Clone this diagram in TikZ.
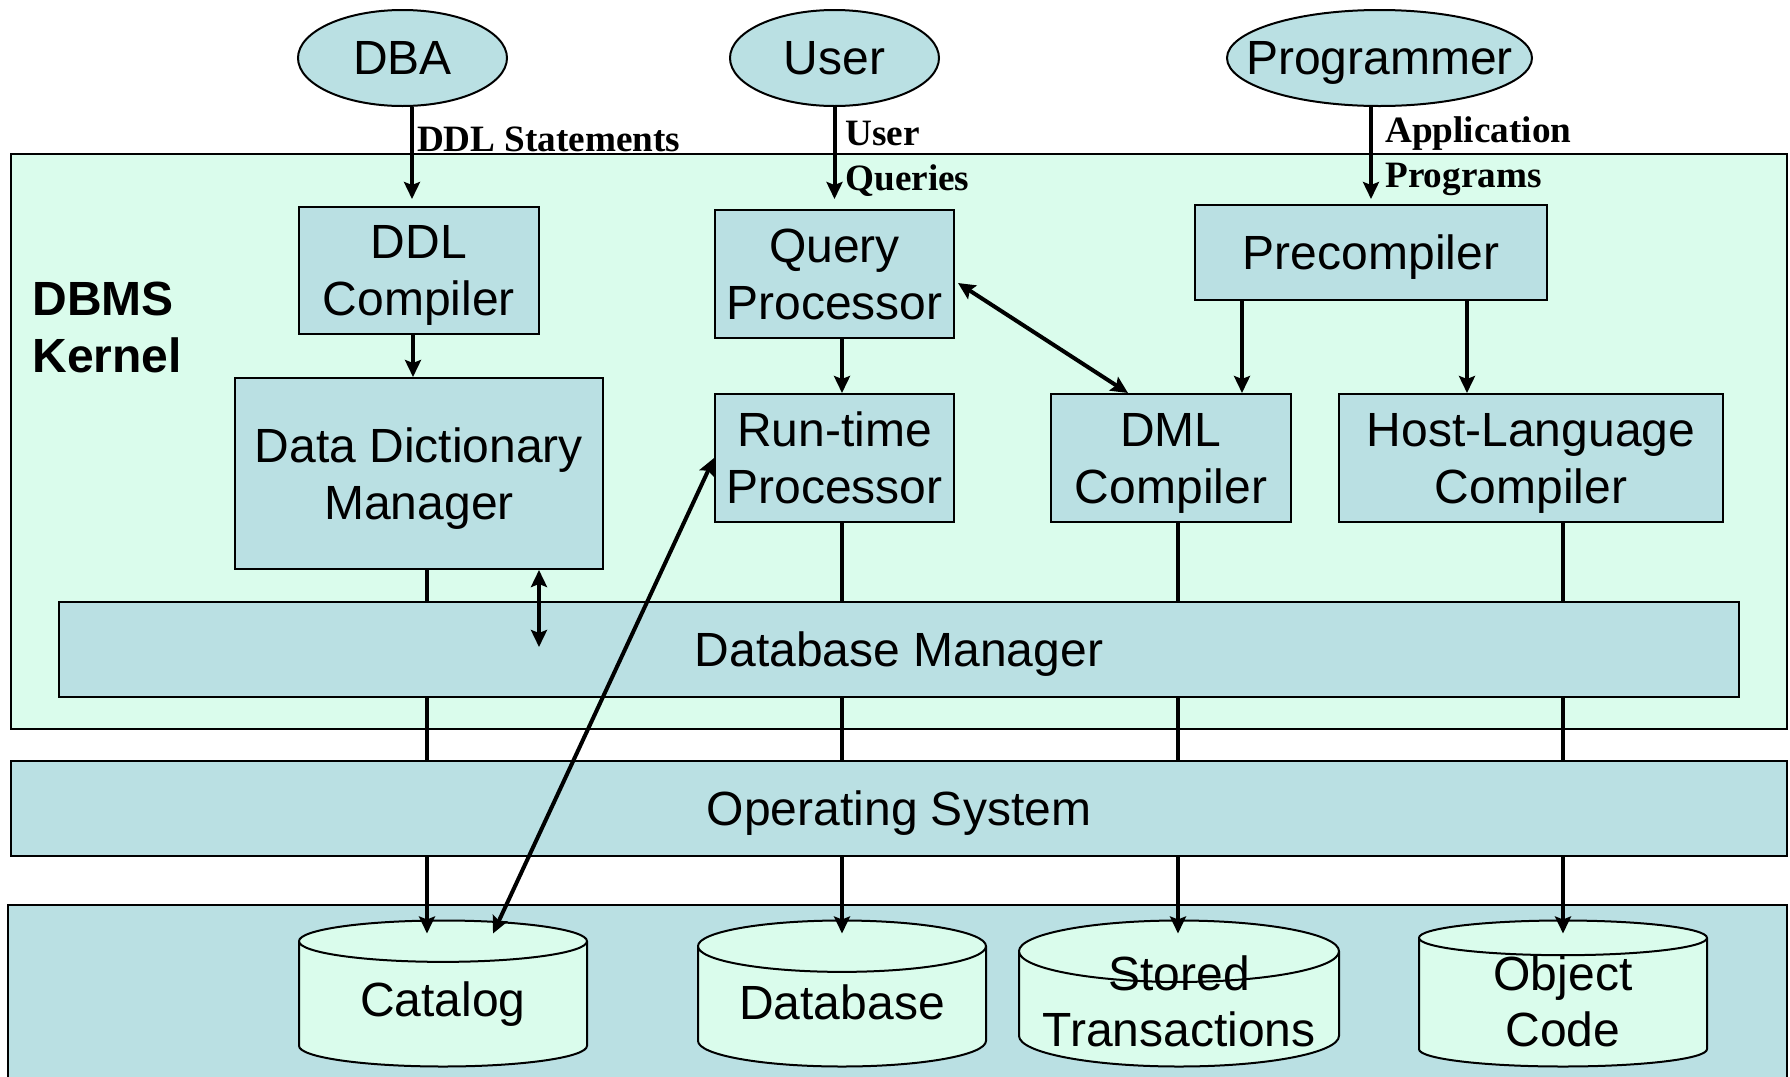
\documentclass[tikz,border=0pt]{standalone}
\usepackage{fontspec}
\setmainfont{Liberation Sans}
\newfontfamily\labelfont{Liberation Serif}
\usetikzlibrary{shapes.geometric,arrows.meta,calc}

\definecolor{boxfill}{RGB}{186,224,227}
\definecolor{kernelfill}{RGB}{218,252,236}

\pgfdeclarelayer{back}
\pgfdeclarelayer{mid}
\pgfsetlayers{back,mid,main}

\tikzset{
  unit/.style={draw, fill=boxfill, line width=1pt, align=center, inner sep=0pt, text depth=0pt,
    font=\fontsize{24}{28.5}\selectfont},
  actor/.style={ellipse, draw, fill=boxfill, line width=1pt, inner sep=0pt, text depth=0pt,
    font=\fontsize{24}{28.5}\selectfont},
  panel/.style={draw, line width=1pt, inner sep=0pt},
  disk/.style={cylinder, shape border rotate=90, aspect=0.25, draw, fill=kernelfill,
    line width=1pt, align=center, inner sep=0pt, anchor=shape center,
    minimum height=73pt, font=\fontsize{24}{28}\selectfont},
  flow/.style={line width=2pt, -{Stealth[length=8.5pt,width=8pt,inset=1.5pt]}},
  dflow/.style={line width=2pt,
    {Stealth[length=8.5pt,width=8pt,inset=1.5pt]}-{Stealth[length=8.5pt,width=8pt,inset=1.5pt]}},
  lbl/.style={font=\labelfont\bfseries\fontsize{18.6}{22.5}\selectfont, align=left, inner sep=0pt},
}

\begin{document}
\begin{tikzpicture}[x=0.5pt, y=-0.5pt]
  \useasboundingbox (0,0) rectangle (1790,1077);

  % background panels and the stores
  \begin{pgfonlayer}{back}
    \node[panel, fill=kernelfill, minimum width=888pt, minimum height=287.5pt] (kernel) at (899,441.5) {};
    \node[panel, fill=boxfill, minimum width=889.5pt, minimum height=92.5pt] (storage) at (897.5,997.5) {};
    \node[disk, minimum width=144pt, text depth=5pt] (catalog) at (443,993.5) {Catalog};
    \node[disk, minimum width=144pt, text depth=5pt] (database) at (842,993.5) {Database};
    \node[disk, minimum width=160pt, aspect=0.225, inner ysep=-14pt, text depth=8pt] (stored) at (1179,993.5) {Stored\\Transactions};
    \node[disk, minimum width=144pt, inner ysep=-14pt, text depth=2pt] (objcode) at (1563,993.5) {Object\\Code};
  \end{pgfonlayer}

  \node[anchor=north west, align=left, inner sep=0pt, font=\bfseries\fontsize{24}{28.5}\selectfont] (kname) at (32,282) {DBMS\\Kernel};

  % actors
  \node[actor, minimum width=104.5pt, minimum height=48pt] (dba) at (402.5,58) {DBA};
  \node[actor, minimum width=104.5pt, minimum height=48pt] (user) at (834.5,58) {User};
  \node[actor, minimum width=152.5pt, minimum height=48pt, inner xsep=-13pt] (prog) at (1379.5,58) {Programmer};

  % modules
  \node[unit, minimum width=120pt, minimum height=63.5pt] (ddlc) at (419,270.5) {DDL\\Compiler};
  \node[unit, minimum width=119.5pt, minimum height=64pt] (qp) at (834.5,274) {Query\\Processor};
  \node[unit, minimum width=176pt, minimum height=47.5pt] (pre) at (1371,252.5) {Precompiler};
  \node[unit, minimum width=184pt, minimum height=95.5pt] (ddm) at (419,473.5) {Data Dictionary\\Manager};
  \node[unit, minimum width=119.5pt, minimum height=64pt] (rtp) at (834.5,458) {Run-time\\Processor};
  \node[unit, minimum width=120pt, minimum height=64pt] (dmlc) at (1171,458) {DML\\Compiler};
  \node[unit, minimum width=192pt, minimum height=64pt] (hlc) at (1531,458) {Host-Language\\Compiler};
  \node[unit, minimum width=840pt, minimum height=47.5pt] (dbm) at (899,649.5) {Database Manager};
  \node[unit, minimum width=888pt, minimum height=47.5pt] (os) at (899,808.5) {Operating System};

  \coordinate (xdba) at (412,0);
  \coordinate (xddl) at (413,0);
  \coordinate (xcat) at (427,0);
  \coordinate (xdd) at (539,0);
  \coordinate (xdb) at (842,0);
  \coordinate (xst) at (1178,0);
  \coordinate (xpre1) at (1242,0);
  \coordinate (xpre2) at (1467,0);
  \coordinate (xobj) at (1563,0);

  % lines down to the stores, behind the manager and the OS
  \begin{pgfonlayer}{mid}
    \draw[flow] (ddm.south -| xcat) -- ($(catalog.north -| xcat)+(0,14)$);
    \draw[flow] (rtp.south -| xdb) -- ($(database.north -| xdb)+(0,14)$);
    \draw[flow] (dmlc.south -| xst) -- ($(stored.north -| xst)+(0,14)$);
    \draw[flow] (hlc.south -| xobj) -- ($(objcode.north -| xobj)+(0,14)$);
  \end{pgfonlayer}

  \draw[flow, shorten >=3.5pt] (dba.south -| xdba) -- (ddlc.north -| xdba)
    node[lbl, pos=0.45, anchor=base west, xshift=1.5pt] (ddllbl) {DDL Statements};
  \draw[flow, shorten >=5pt] (user.south) -- (qp.north);
  \node[lbl, anchor=north west] (uqlbl) at (845,121) {User\\Queries};
  \draw[flow, shorten >=2.5pt] (prog.south -| pre) -- (pre.north);
  \node[lbl, anchor=north west] (aplbl) at (1385,116) {Application\\Programs};

  \draw[flow] (ddlc.south -| xddl) -- (ddm.north -| xddl);
  \draw[flow] (qp.south -| xdb) -- (rtp.north -| xdb);
  \draw[flow] (pre.south -| xpre1) -- (dmlc.north -| xpre1);
  \draw[flow] (pre.south -| xpre2) -- (hlc.north -| xpre2);
  \draw[dflow] ($(qp.east)+(3,9)$) -- ($(dmlc.north)+(-43,0)$);
  \draw[dflow] (ddm.south -| xdd) -- ($(dbm.north -| xdd)+(0,46)$);
  \draw[dflow] ($(catalog.north)+(50,14)$) -- (rtp.west);

\end{tikzpicture}
\end{document}
